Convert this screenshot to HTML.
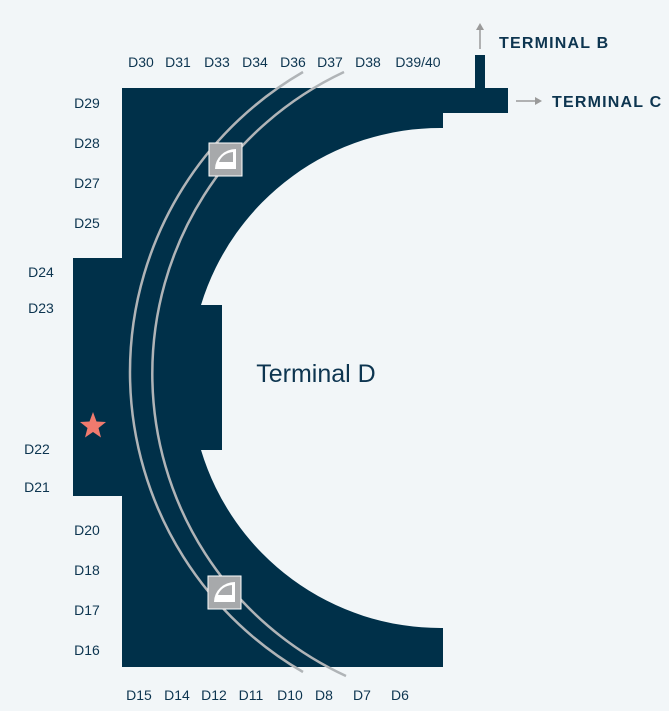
<!DOCTYPE html>
<html><head><style>
body{margin:0;background:#f2f6f8;}
svg{display:block}
text{font-family:"Liberation Sans",sans-serif;fill:#0d3550;}
</style></head><body>
<svg width="669" height="711" viewBox="0 0 669 711">
<rect width="669" height="711" fill="#f2f6f8"/>
<path fill="#003049" d="M122,88 H508 V113 H443 V128 A250,250 0 0 0 201,305 H222 V450 H201 A250,250 0 0 0 443,628 V667 H122 V496 H73 V258 H122 Z"/>
<rect x="475" y="55" width="10" height="34" fill="#003049"/>
<g fill="none" stroke="#b0b4b7" stroke-width="2.5">
<path d="M303,72 A346.6,346.6 0 0 0 303,672"/>
<path d="M344,72 A333,333 0 0 0 346,676"/>
</g>
<g>
<rect x="209" y="143" width="33" height="33" fill="#a7a9ab" stroke="#fff" stroke-width="1"/>
<path d="M215,169 H236 V149 A21,20 0 0 0 215,169 Z" fill="#fff"/>
<path d="M219,162 H233 V152 A16,14 0 0 0 219,162 Z" fill="#a7a9ab"/>
<rect x="208" y="576" width="33" height="33" fill="#a7a9ab" stroke="#fff" stroke-width="1"/>
<path d="M214,602 H235 V582 A21,20 0 0 0 214,602 Z" fill="#fff"/>
<path d="M218,595 H232 V585 A16,14 0 0 0 218,595 Z" fill="#a7a9ab"/>
</g>
<polygon fill="#f07a6e" points="93,412 96.5,421.5 106,422 98.5,428 101,437.5 93,432 85,437.5 87.5,428 80,422 89.5,421.5"/>
<g stroke="#9a9a9a" stroke-width="1.5" fill="#9a9a9a">
<line x1="480" y1="49" x2="480" y2="28"/>
<polygon points="476,30 480,23 484,30" stroke="none"/>
<line x1="516" y1="101" x2="536" y2="101"/>
<polygon points="535,97 542,101 535,105" stroke="none"/>
</g>
<text x="499" y="48" font-size="16" font-weight="bold" letter-spacing="1.2">TERMINAL B</text>
<text x="552" y="107" font-size="16" font-weight="bold" letter-spacing="1.2">TERMINAL C</text>
<text x="316" y="382" font-size="25" text-anchor="middle">Terminal D</text>
<g font-size="14" text-anchor="middle">
<text x="141" y="67">D30</text><text x="178" y="67">D31</text><text x="217" y="67">D33</text><text x="255" y="67">D34</text><text x="293" y="67">D36</text><text x="330" y="67">D37</text><text x="368" y="67">D38</text><text x="418" y="67">D39/40</text>
<text x="139" y="700">D15</text><text x="177" y="700">D14</text><text x="214" y="700">D12</text><text x="251" y="700">D11</text><text x="290" y="700">D10</text><text x="324" y="700">D8</text><text x="362" y="700">D7</text><text x="400" y="700">D6</text>
<text x="87" y="108">D29</text><text x="87" y="148">D28</text><text x="87" y="188">D27</text><text x="87" y="228">D25</text>
<text x="41" y="277">D24</text><text x="41" y="313">D23</text><text x="37" y="454">D22</text><text x="37" y="492">D21</text>
<text x="87" y="535">D20</text><text x="87" y="575">D18</text><text x="87" y="615">D17</text><text x="87" y="655">D16</text>
</g>
</svg>
</body></html>
